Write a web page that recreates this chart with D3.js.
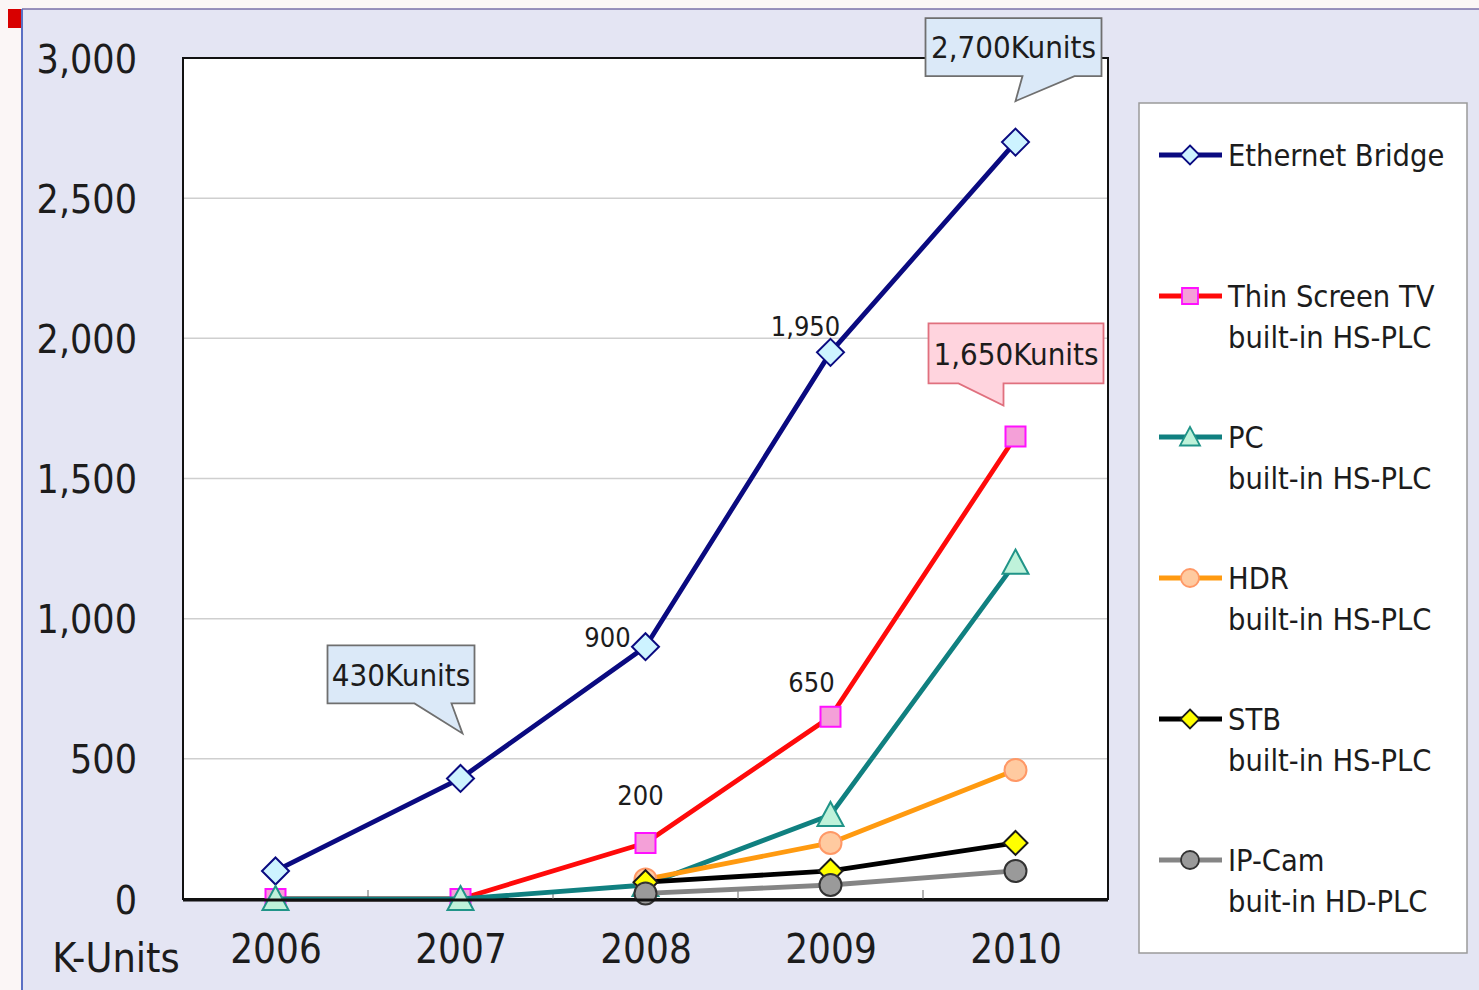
<!DOCTYPE html>
<html>
<head>
<meta charset="utf-8">
<script src="https://cdn.jsdelivr.net/npm/d3@7"></script>
<style>
  html, body { margin: 0; padding: 0; background: #fbf6f6; }
  svg { display: block; }
  text { font-family: "DejaVu Sans Condensed", "DejaVu Sans", sans-serif; font-stretch: condensed; fill: #1c1c1c; }
</style>
</head>
<body>
<svg id="chart" width="1479" height="990"></svg>
<script>
// Shipments of HD-PLC equipped products, thousands of units
const years = ["2006", "2007", "2008", "2009", "2010"];
const ethernetBridge = [100, 430, 900, 1950, 2700];
const thinScreenTV   = [0, 0, 200, 650, 1650];
const pcPLC          = [0, 0, 50, 300, 1200];
const hdrPLC         = [null, null, 70, 200, 460];
const stbPLC         = [null, null, 60, 100, 200];
const ipCamPLC       = [null, null, 20, 50, 100];
const yTickValues    = [0, 500, 1000, 1500, 2000, 2500, 3000];
const yAxisUnit      = "K-Units";

const series = [
  { lines: ["Ethernet Bridge"], values: ethernetBridge, color: "#0a0a80",
    marker: "diamond", size: 13.5, fill: "#cdf3ff", stroke: "#0a0a80" },
  { lines: ["Thin Screen TV", "built-in HS-PLC"], values: thinScreenTV, color: "#ff0a0a",
    marker: "square", size: 10, fill: "#f4a0d8", stroke: "#ff10ff" },
  { lines: ["PC", "built-in HS-PLC"], values: pcPLC, color: "#108080",
    marker: "triangle", size: 13, fill: "#bff2da", stroke: "#209488" },
  { lines: ["HDR", "built-in HS-PLC"], values: hdrPLC, color: "#ff9a10",
    marker: "circle", size: 11, fill: "#ffcaa0", stroke: "#ff9866" },
  { lines: ["STB", "built-in HS-PLC"], values: stbPLC, color: "#000000",
    marker: "diamond", size: 12, fill: "#ffff00", stroke: "#1a1a1a" },
  { lines: ["IP-Cam", "buit-in HD-PLC"], values: ipCamPLC, color: "#858585",
    marker: "circle", size: 11, fill: "#9a9a9a", stroke: "#333333" }
];

// value labels placed beside selected points
const valueLabels = [
  { s: 0, i: 2, dx: -38, dy: 0 },
  { s: 0, i: 3, dx: -25, dy: -16 },
  { s: 1, i: 2, dx: -5,  dy: -38 },
  { s: 1, i: 3, dx: -19, dy: -25 }
];

// speech-bubble callouts: box and pointer offsets relative to the point
const callouts = [
  { s: 0, i: 1, fill: "#dbe9f8", stroke: "#6f6f6f",
    box: [-133, -133, 147, 58], base: [-46, -9], tip: [2, -45] },
  { s: 0, i: 4, fill: "#dbe9f8", stroke: "#6f6f6f",
    box: [-90, -124, 176, 58], base: [7, 59], tip: [0, -41] },
  { s: 1, i: 4, fill: "#ffd4de", stroke: "#e0707e",
    box: [-87, -113, 175, 60], base: [-57, -12], tip: [-12, -31] }
];

const svg = d3.select("#chart");
const W = 1479, H = 990;
const plot = { left: 183, right: 1108, top: 58, bottom: 899 };

// frame background
svg.append("rect").attr("x", 22).attr("y", 9).attr("width", W - 22).attr("height", H - 9)
  .attr("fill", "#e4e5f3");
svg.append("line").attr("x1", 22).attr("x2", W).attr("y1", 9).attr("y2", 9)
  .attr("stroke", "#7a6fa8").attr("stroke-width", 1.5);
svg.append("line").attr("x1", 22).attr("x2", 22).attr("y1", 9).attr("y2", H)
  .attr("stroke", "#5a70c4").attr("stroke-width", 2);
svg.append("rect").attr("x", 8).attr("y", 9).attr("width", 13).attr("height", 19)
  .attr("fill", "#d80000");

const x = d3.scalePoint().domain(years).range([plot.left, plot.right]).padding(0.5);
const y = d3.scaleLinear().domain([0, 3000]).range([plot.bottom, plot.top]);

// plot area
svg.append("rect").attr("x", plot.left).attr("y", plot.top)
  .attr("width", plot.right - plot.left).attr("height", plot.bottom - plot.top)
  .attr("fill", "#ffffff");

// gridlines
svg.append("g").selectAll("line").data(yTickValues.filter(v => v > 0 && v < 3000)).join("line")
  .attr("x1", plot.left).attr("x2", plot.right)
  .attr("y1", d => y(d)).attr("y2", d => y(d))
  .attr("stroke", "#cfcfcf").attr("stroke-width", 1.5);

// plot border
svg.append("rect").attr("x", plot.left).attr("y", plot.top)
  .attr("width", plot.right - plot.left).attr("height", plot.bottom - plot.top)
  .attr("fill", "none").attr("stroke", "#111").attr("stroke-width", 2);

// category boundary ticks on the x axis
const step = x.step();
svg.append("g").selectAll("line").data(years.slice(1)).join("line")
  .attr("x1", d => x(d) - step / 2).attr("x2", d => x(d) - step / 2)
  .attr("y1", plot.bottom).attr("y2", plot.bottom - 9)
  .attr("stroke", "#9a9a9a").attr("stroke-width", 1.5);

// y axis labels
const yAxis = d3.axisLeft(y).tickValues(yTickValues).tickFormat(d3.format(",")).tickSize(0).tickPadding(46);
const gy = svg.append("g").attr("transform", `translate(${plot.left},0)`).call(yAxis);
gy.select(".domain").remove();
gy.selectAll("text").style("font-size", "39px").attr("dy", "0.36em").style("fill", "#1c1c1c");

// x axis labels
const xAxis = d3.axisBottom(x).tickSize(0).tickPadding(36);
const gx = svg.append("g").attr("transform", `translate(0,${plot.bottom})`).call(xAxis);
gx.select(".domain").remove();
gx.selectAll("text").style("font-size", "40px").style("fill", "#1c1c1c");

svg.append("text").attr("x", 116).attr("y", 972).attr("text-anchor", "middle")
  .style("font-size", "41px").text(yAxisUnit);

const markerShape = {
  diamond: r => `M0,${-r}L${r},0L0,${r}L${-r},0Z`,
  square: r => `M${-r},${-r}H${r}V${r}H${-r}Z`,
  triangle: r => `M0,${-r}L${r},${r * 0.85}L${-r},${r * 0.85}Z`,
  circle: r => d3.arc()({ innerRadius: 0, outerRadius: r, startAngle: 0, endAngle: 2 * Math.PI })
};

const line = d3.line().defined(d => d.v !== null).x(d => x(d.year)).y(d => y(d.v));

series.forEach(s => {
  const pts = years.map((yr, i) => ({ year: yr, v: s.values[i] }));
  const g = svg.append("g");
  g.append("path").attr("d", line(pts)).attr("fill", "none")
    .attr("stroke", s.color).attr("stroke-width", 4.8).attr("stroke-linejoin", "round");
  g.selectAll("path.m").data(pts.filter(d => d.v !== null)).join("path")
    .attr("class", "m")
    .attr("transform", d => `translate(${x(d.year)},${y(d.v)})`)
    .attr("d", markerShape[s.marker](s.size))
    .attr("fill", s.fill).attr("stroke", s.stroke).attr("stroke-width", 2);
});

// bottom axis line drawn over the series baseline
svg.append("line").attr("x1", plot.left).attr("x2", plot.right)
  .attr("y1", plot.bottom + 1).attr("y2", plot.bottom + 1)
  .attr("stroke", "#111").attr("stroke-width", 3);

// value labels
svg.append("g").selectAll("text").data(valueLabels).join("text")
  .attr("x", d => x(years[d.i]) + d.dx)
  .attr("y", d => y(series[d.s].values[d.i]) + d.dy)
  .attr("text-anchor", "middle").style("font-size", "27px")
  .text(d => d3.format(",")(series[d.s].values[d.i]));

// callouts
callouts.forEach(c => {
  const v = series[c.s].values[c.i];
  const px = x(years[c.i]), py = y(v);
  const [bx, by, bw, bh] = c.box;
  const L = px + bx, T = py + by, R = L + bw, B = T + bh;
  const path = `M${L},${T}H${R}V${B}H${px + c.base[1]}L${px + c.tip[0]},${py + c.tip[1]}L${px + c.base[0]},${B}H${L}Z`;
  svg.append("path").attr("d", path).attr("fill", c.fill)
    .attr("stroke", c.stroke).attr("stroke-width", 1.8).attr("stroke-linejoin", "miter");
  svg.append("text").attr("x", (L + R) / 2).attr("y", T + bh / 2).attr("dy", "0.36em")
    .attr("text-anchor", "middle").style("font-size", "31px")
    .text(d3.format(",")(v) + "Kunits");
});

// legend
const legend = svg.append("g");
legend.append("rect").attr("x", 1139).attr("y", 103).attr("width", 328).attr("height", 850)
  .attr("fill", "#ffffff").attr("stroke", "#9a9a9a").attr("stroke-width", 1.5);
const entry = legend.selectAll("g.entry").data(series).join("g").attr("class", "entry")
  .attr("transform", (d, i) => `translate(0,${155 + i * 141})`);
entry.append("line").attr("x1", 1159).attr("x2", 1222).attr("y1", 0).attr("y2", 0)
  .attr("stroke", d => d.color).attr("stroke-width", 5);
entry.append("path").attr("transform", "translate(1190,0)")
  .attr("d", d => markerShape[d.marker](d.marker === "circle" ? 9 : d.marker === "square" ? 8 : d.marker === "triangle" ? 10 : 9.5))
  .attr("fill", d => d.fill).attr("stroke", d => d.stroke).attr("stroke-width", 1.8);
entry.append("text").attr("x", 1228).attr("y", 11).style("font-size", "30.5px")
  .selectAll("tspan").data(d => d.lines).join("tspan")
  .attr("x", 1228).attr("dy", (d, i) => i === 0 ? 0 : 41).text(d => d);
</script>
</body>
</html>
